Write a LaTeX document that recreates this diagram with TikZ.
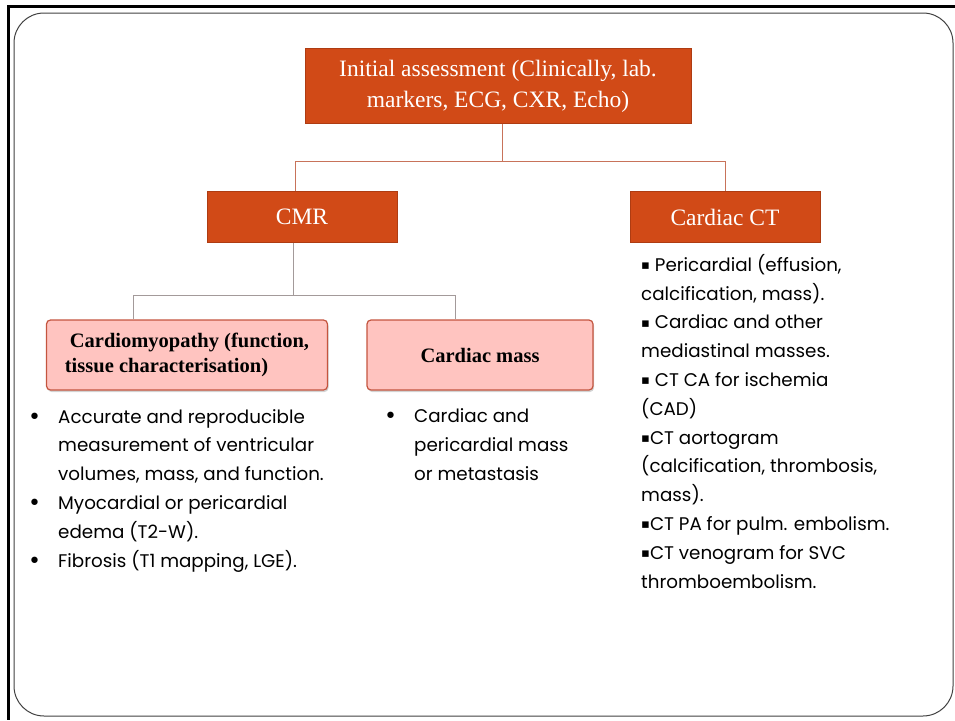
\documentclass[tikz,border=0pt]{standalone}
\usepackage{fontspec}
\setmainfont{Liberation Serif}
\newfontfamily\gothic{Poppins}
\newfontfamily\symfont{DejaVu Sans}
\usetikzlibrary{positioning,shadows}

\definecolor{rust}{HTML}{D14A17}
\definecolor{rustedge}{HTML}{AE3C12}
\definecolor{linkrust}{HTML}{C8735A}
\definecolor{linkgray}{HTML}{A39A9A}
\definecolor{pinkfill}{HTML}{FFC4C0}
\definecolor{pinkedge}{HTML}{C4553F}

\newcommand{\sqbullet}{\raisebox{1.8pt}{\symfont\fontsize{13}{13}\selectfont ▪}}
\newcommand{\dotbullet}{\llap{\raisebox{-1pt}{\symfont\fontsize{22}{22}\selectfont •}\hspace{17pt}}}

\begin{document}
\begin{tikzpicture}[x=1pt,y=-1pt,
    orangebox/.style={draw=rustedge, fill=rust, text=white, inner sep=0pt,
        font=\fontsize{23.5}{31}\selectfont, align=center},
    pinkbox/.style={draw=pinkedge, line width=1.2pt, fill=pinkfill, rounded corners=4pt,
        drop shadow={shadow xshift=1pt, shadow yshift=-2pt, opacity=0.35},
        inner sep=0pt, font=\fontsize{20.5}{25}\selectfont\bfseries},
    toplink/.style={draw=linkrust, line width=0.9pt},
    lowlink/.style={draw=linkgray, line width=0.9pt},
    bullettext/.style={anchor=base west, inner sep=0pt, align=left,
        font=\gothic\fontsize{18.3}{28.8}\selectfont}]
\useasboundingbox (0,0) rectangle (955,720);

% slide frame
\draw[line width=3pt] (955,6) -- (8,6) -- (8,720);
\draw[draw=black!75, line width=1pt, rounded corners=30pt] (14,13) rectangle (953,716);

% boxes
\node[orangebox, minimum width=386, minimum height=75] (init) at (498,86)
    {Initial assessment (Clinically, lab.\\markers, ECG, CXR, Echo)};
\node[orangebox, minimum width=190, minimum height=51] (cmr) at (302,217) {CMR};
\node[orangebox, minimum width=190, minimum height=51] (ct) at (725,217) {Cardiac CT};
\node[pinkbox, minimum width=281, minimum height=70, align=left] (cardio) at (187,355)
    {\hspace{5pt}Cardiomyopathy (function,\\tissue characterisation)};
\node[pinkbox, minimum width=226, minimum height=70] (mass) at (480,355) {Cardiac mass};

% connectors
\draw[toplink] ([xshift=4pt]init.south) -- ++(0,38) coordinate (fork);
\draw[toplink] ([xshift=-7pt]cmr.north) |- (fork) -| (ct.north);
\draw[lowlink] ([xshift=-9pt]cmr.south) -- ++(0,53) coordinate (fork2);
\draw[lowlink] ([xshift=-54pt]cardio.north) |- (fork2) -| ([xshift=-25pt]mass.north);

% lists (anchored on the last baseline)
\node[bullettext] (cmrlist) at (58,567)
    {\dotbullet Accurate and reproducible\\measurement of ventricular\\volumes, mass, and function.\\
     \dotbullet Myocardial or pericardial\\edema (T2-W).\\
     \dotbullet Fibrosis (T1 mapping, LGE).};
\node[bullettext] (masslist) at (414,480)
    {\dotbullet Cardiac and\\pericardial mass\\or metastasis};
\node[bullettext] (ctlist) at (641,588)
    {\sqbullet{} Pericardial (effusion,\\calcification, mass).\\
     \sqbullet{} Cardiac and other\\mediastinal masses.\\
     \sqbullet{} CT CA for ischemia\\(CAD)\\
     \sqbullet CT aortogram\\(calcification, thrombosis,\\mass).\\
     \sqbullet CT PA for pulm. embolism.\\
     \sqbullet CT venogram for SVC\\thromboembolism.};
\end{tikzpicture}
\end{document}
